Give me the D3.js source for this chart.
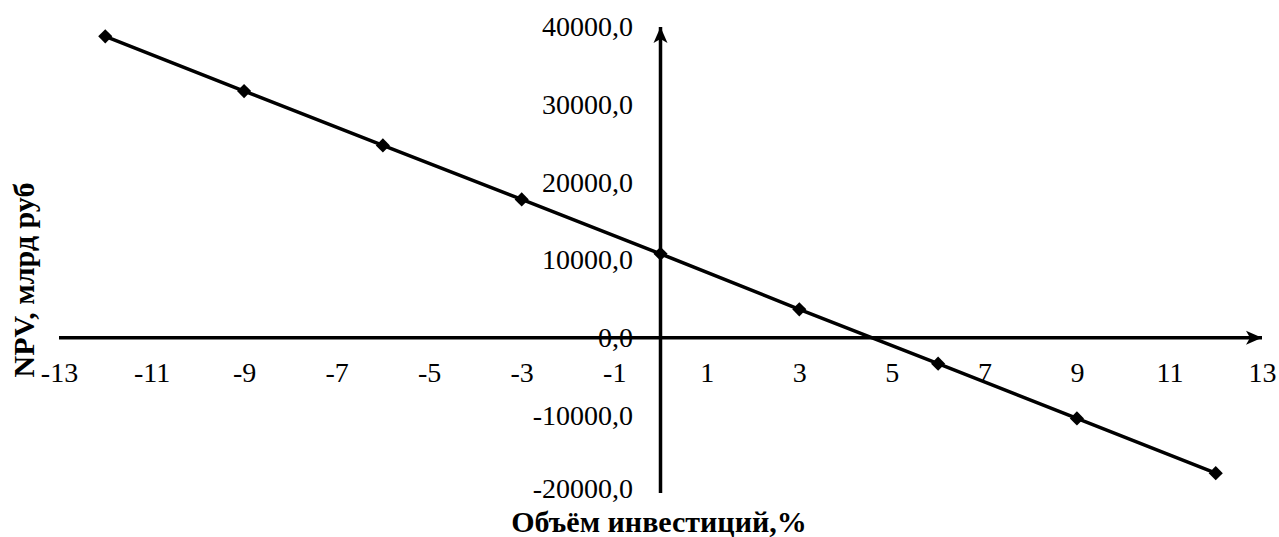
<!DOCTYPE html>
<html>
<head>
<meta charset="utf-8">
<script src="https://cdn.jsdelivr.net/npm/d3@7"></script>
<style>
  html, body { margin: 0; padding: 0; background: #fff; }
  svg { display: block; }
  text { font-family: "Liberation Serif", "Times New Roman", serif; fill: #000; }
</style>
</head>
<body>
<svg id="chart" width="1279" height="537"></svg>
<script>
// Investment volume change, %
const investmentChange = [-12, -9, -6, -3, 0, 3, 6, 9, 12];
// NPV, bn rub
const npvValues = [38800, 31750, 24750, 17800, 10800, 3650, -3350, -10400, -17450];

const xTicks = [-13, -11, -9, -7, -5, -3, -1, 1, 3, 5, 7, 9, 11, 13];
const xTickLabels = ["-13", "-11", "-9", "-7", "-5", "-3", "-1", "1", "3", "5", "7", "9", "11", "13"];
const yTicks = [-20000, -10000, 0, 10000, 20000, 30000, 40000];
const yTickLabels = ["-20000,0", "-10000,0", "0,0", "10000,0", "20000,0", "30000,0", "40000,0"];

const xTitle = "Объём инвестиций,%";
const yTitle = "NPV, млрд руб";

const svg = d3.select("#chart");

const x = d3.scaleLinear().domain([-13, 13]).range([59, 1262]);
const y = d3.scaleLinear().domain([-20000, 40000]).range([493, 27]);

// arrowhead
const defs = svg.append("defs");
defs.append("marker")
  .attr("id", "arrow")
  .attr("viewBox", "0 -8 16 16")
  .attr("refX", 16).attr("refY", 0)
  .attr("markerWidth", 16).attr("markerHeight", 16)
  .attr("markerUnits", "userSpaceOnUse")
  .attr("orient", "auto")
  .append("path")
  .attr("d", "M0,-7 L16,0 L0,7 L4,0 Z")
  .attr("fill", "#000");

// horizontal axis through zero
svg.append("line")
  .attr("x1", x(-13)).attr("x2", x(13))
  .attr("y1", y(0)).attr("y2", y(0))
  .attr("stroke", "#000").attr("stroke-width", 3.5)
  .attr("marker-end", "url(#arrow)");

// vertical axis through zero
svg.append("line")
  .attr("x1", x(0)).attr("x2", x(0))
  .attr("y1", y(-20000)).attr("y2", y(40000))
  .attr("stroke", "#000").attr("stroke-width", 3.5)
  .attr("marker-end", "url(#arrow)");

// x tick labels
const xAxis = d3.axisBottom(x)
  .tickValues(xTicks)
  .tickSize(0)
  .tickPadding(0)
  .tickFormat((d, i) => xTickLabels[i]);
const gx = svg.append("g").attr("transform", `translate(0,${y(0)})`).call(xAxis);
gx.select(".domain").remove();
gx.selectAll("text")
  .attr("font-size", 28)
  .attr("font-family", "Liberation Serif")
  .attr("dy", null)
  .attr("y", 44);

// y tick labels (lowest one nudged up to clear the axis title)
const yAxis = d3.axisLeft(y)
  .tickValues(yTicks)
  .tickSize(0)
  .tickPadding(0)
  .tickFormat((d, i) => yTickLabels[i]);
const gy = svg.append("g").attr("transform", `translate(633,0)`).call(yAxis);
gy.select(".domain").remove();
gy.selectAll("text")
  .attr("font-size", 28)
  .attr("font-family", "Liberation Serif")
  .attr("x", 0)
  .attr("dy", d => d === -20000 ? "0.17em" : "0.32em");

// data line
const pts = investmentChange.map((d, i) => [d, npvValues[i]]);
svg.append("path")
  .datum(pts)
  .attr("fill", "none")
  .attr("stroke", "#000")
  .attr("stroke-width", 3.5)
  .attr("d", d3.line().x(d => x(d[0])).y(d => y(d[1])));

// diamond markers
svg.append("g").selectAll("path")
  .data(pts)
  .join("path")
  .attr("transform", d => `translate(${x(d[0])},${y(d[1])}) rotate(45)`)
  .attr("d", d3.symbol(d3.symbolSquare, 100))
  .attr("fill", "#000");

// axis titles
svg.append("text")
  .attr("x", 659).attr("y", 532)
  .attr("text-anchor", "middle")
  .attr("font-size", 30)
  .attr("font-weight", "bold")
  .text(xTitle);

svg.append("text")
  .attr("transform", "translate(34,280) rotate(-90)")
  .attr("text-anchor", "middle")
  .attr("font-size", 30)
  .attr("font-weight", "bold")
  .text(yTitle);
</script>
</body>
</html>
